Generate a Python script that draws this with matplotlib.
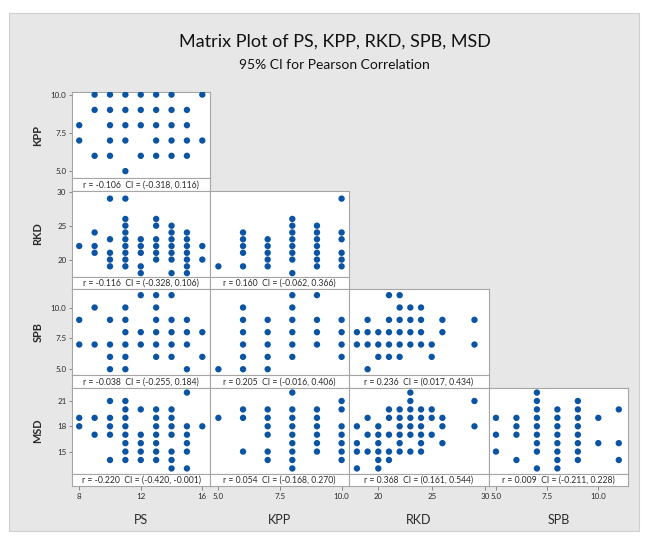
import matplotlib
matplotlib.use("Agg")
import matplotlib.pyplot as plt
from matplotlib.patches import Rectangle

plt.rcParams['font.family'] = ['Lato', 'DejaVu Sans']

# ---------------- data (value of x -> list of y values seen at that x) -----------
variables = ["PS", "KPP", "RKD", "SPB", "MSD"]

KPP_vs_PS = {8: [8, 7], 9: [10, 9, 6], 10: [10, 9, 8, 7, 6], 11: [10, 9, 8, 7, 5],
             12: [10, 9, 8, 6], 13: [10, 9, 8, 7, 6], 14: [10, 9, 8, 7, 6],
             15: [9, 8, 7, 6], 16: [10, 7]}

RKD_vs_PS = {8: [22], 9: [24, 22, 21], 10: [29, 23, 21, 20, 19],
             11: [29, 26, 25, 24, 23, 22, 21, 20, 19], 12: [23, 22, 21, 19, 18],
             13: [26, 25, 23, 22, 21, 20], 14: [25, 24, 23, 22, 21, 20, 18],
             15: [24, 23, 22, 21, 20, 19, 18], 16: [22, 20]}
RKD_vs_KPP = {5: [19], 6: [24, 23, 22, 21, 19], 7: [23, 22, 21, 20, 19],
              8: [26, 25, 24, 23, 22, 21, 20, 18], 9: [25, 24, 23, 22, 21, 20, 19],
              10: [29, 24, 23, 21, 20, 19]}

SPB_vs_PS = {8: [9, 7], 9: [10, 7], 10: [9, 7, 6, 5], 11: [10, 9, 8, 7, 6, 5],
             12: [11, 8, 7], 13: [11, 10, 9, 8, 7, 6], 14: [11, 9, 8, 7, 6],
             15: [9, 8, 7, 5], 16: [8, 6]}
SPB_vs_KPP = {5: [5], 6: [10, 9, 8, 7, 6, 5], 7: [9, 8, 7, 6, 5],
              8: [11, 10, 9, 8, 7, 6], 9: [11, 9, 8, 7], 10: [9, 8, 7, 6]}
SPB_vs_RKD = {18: [8, 7], 19: [9, 8, 7, 5], 20: [8, 7, 6], 21: [11, 9, 8, 7, 6],
              22: [11, 10, 9, 8, 7, 6], 23: [10, 9, 8, 7], 24: [10, 9, 8, 7],
              25: [7, 6], 26: [9, 8], 29: [9, 7]}

MSD_vs_PS = {8: [19, 18], 9: [19, 17], 10: [21, 19, 18, 17, 14],
             11: [21, 20, 19, 18, 17, 16, 15, 14], 12: [20, 17, 16, 15, 14],
             13: [20, 19, 18, 17, 16, 15, 14], 14: [20, 19, 18, 17, 15, 14, 13],
             15: [22, 18, 17, 16, 15, 13], 16: [18]}
MSD_vs_KPP = {5: [19], 6: [20, 19, 15], 7: [20, 19, 18, 17, 15, 14],
              8: [22, 20, 19, 18, 17, 16, 15, 14, 13], 9: [20, 19, 18, 17, 16, 15],
              10: [21, 20, 18, 17, 16, 15, 14]}
MSD_vs_RKD = {18: [18, 16, 15, 13], 19: [19, 17, 15], 20: [18, 17, 16, 15, 14, 13],
              21: [20, 19, 17, 15, 14], 22: [20, 19, 18, 17, 16, 15],
              23: [22, 21, 20, 19, 18, 17, 15], 24: [20, 19, 18, 17, 16, 15],
              25: [20, 19, 17], 26: [19, 18, 16], 29: [21, 18]}
MSD_vs_SPB = {5: [19, 17, 15], 6: [19, 18, 17, 14],
              7: [22, 21, 20, 19, 18, 17, 16, 15, 13],
              8: [20, 19, 18, 17, 16, 15, 14, 13],
              9: [21, 20, 19, 18, 17, 16, 15, 14], 10: [19, 16], 11: [20, 16, 14]}

panels = {
    (0, 0): KPP_vs_PS,
    (1, 0): RKD_vs_PS, (1, 1): RKD_vs_KPP,
    (2, 0): SPB_vs_PS, (2, 1): SPB_vs_KPP, (2, 2): SPB_vs_RKD,
    (3, 0): MSD_vs_PS, (3, 1): MSD_vs_KPP, (3, 2): MSD_vs_RKD, (3, 3): MSD_vs_SPB,
}

r_values = {(0, 0): "-0.106", (1, 0): "-0.116", (1, 1): "0.160",
            (2, 0): "-0.038", (2, 1): "0.205", (2, 2): "0.236",
            (3, 0): "-0.220", (3, 1): "0.054", (3, 2): "0.368", (3, 3): "0.009"}
ci_values = {(0, 0): "(-0.318, 0.116)", (1, 0): "(-0.328, 0.106)", (1, 1): "(-0.062, 0.366)",
             (2, 0): "(-0.255, 0.184)", (2, 1): "(-0.016, 0.406)", (2, 2): "(0.017, 0.434)",
             (3, 0): "(-0.420, -0.001)", (3, 1): "(-0.168, 0.270)", (3, 2): "(0.161, 0.544)",
             (3, 3): "(-0.211, 0.228)"}

col_vars = ["PS", "KPP", "RKD", "SPB"]
row_vars = ["KPP", "RKD", "SPB", "MSD"]
x_ticks = {"PS": [8, 12, 16], "KPP": [5.0, 7.5, 10.0], "RKD": [20, 25, 30], "SPB": [5.0, 7.5, 10.0]}
x_ticklabels = {"PS": ["8", "12", "16"], "KPP": ["5.0", "7.5", "10.0"],
                "RKD": ["20", "25", "30"], "SPB": ["5.0", "7.5", "10.0"]}
y_ticks = {"KPP": [5.0, 7.5, 10.0], "RKD": [20, 25, 30], "SPB": [5.0, 7.5, 10.0], "MSD": [15, 18, 21]}
y_ticklabels = {"KPP": ["5.0", "7.5", "10.0"], "RKD": ["20", "25", "30"],
                "SPB": ["5.0", "7.5", "10.0"], "MSD": ["15", "18", "21"]}

title = "Matrix Plot of PS, KPP, RKD, SPB, MSD"
subtitle = "95% CI for Pearson Correlation"

# ---------------- layout ----------------
W, H = 645, 540
x_lims = {"PS": (7.53, 16.5), "KPP": (4.66, 10.3), "RKD": (17.26, 30.36), "SPB": (4.66, 11.45)}
y_lims = {"KPP": (4.55, 10.17), "RKD": (17.5, 30.2), "SPB": (4.53, 11.5), "MSD": (12.4, 22.6)}
col_edges = [72, 210, 349, 489, 628]
row_tops = [92, 190.5, 289, 387.5]
cell_h = 98.5
strip_h = 12.5
dot_color = "#0a54a3"
frame_color = "#a6a6a6"
txt_color = "#2a2a2a"

fig = plt.figure(figsize=(W / 100, H / 100), dpi=100)
fig.patch.set_facecolor("white")
fig.add_artist(Rectangle((9 / W, 1 - 531 / H), 630 / W, (531 - 13) / H,
                         transform=fig.transFigure, facecolor="#e7e7e7",
                         edgecolor="#cfcfcf", lw=0.8, zorder=0))

def fig_rect(x0, y0, x1, y1):
    return [x0 / W, 1 - y1 / H, (x1 - x0) / W, (y1 - y0) / H]

def style_spines(ax):
    for s in ax.spines.values():
        s.set_color(frame_color)
        s.set_linewidth(0.8)

for (i, j), data in panels.items():
    xv, yv = col_vars[j], row_vars[i]
    x0, x1 = col_edges[j], col_edges[j + 1]
    top = row_tops[i]
    ax = fig.add_axes(fig_rect(x0, top, x1, top + cell_h - strip_h))
    ax.set_facecolor("white")
    xs, ys = [], []
    for xval, yl in data.items():
        for yval in yl:
            xs.append(xval)
            ys.append(yval)
    ax.scatter(xs, ys, s=21, color=dot_color, edgecolors="none", zorder=3)
    ax.set_xlim(*x_lims[xv])
    ax.set_ylim(*y_lims[yv])
    ax.set_xticks([])
    style_spines(ax)
    if j == 0:
        ax.set_yticks(y_ticks[yv])
        ax.set_yticklabels(y_ticklabels[yv])
        ax.tick_params(axis="y", length=2.5, width=0.6, color="#777777", pad=1.5,
                       labelsize=5.8, labelcolor=txt_color)
    else:
        ax.set_yticks([])

    sax = fig.add_axes(fig_rect(x0, top + cell_h - strip_h, x1, top + cell_h))
    sax.set_facecolor("white")
    style_spines(sax)
    sax.set_xlim(*x_lims[xv])
    sax.set_ylim(0, 1)
    sax.set_yticks([])
    sax.text(0.5, 0.45, f"r = {r_values[(i, j)]}  CI = {ci_values[(i, j)]}",
             transform=sax.transAxes, ha="center", va="center", fontsize=6.2,
             color=txt_color)
    if i == 3:
        sax.set_xticks(x_ticks[xv])
        sax.set_xticklabels(x_ticklabels[xv])
        sax.tick_params(axis="x", length=3, width=0.6, color="#777777", pad=2,
                        labelsize=5.8, labelcolor=txt_color)
        fig.text((x0 + x1) / 2 / W, 1 - 520 / H, xv, ha="center", va="center",
                 fontsize=9, color=txt_color)
    else:
        sax.set_xticks([])
    if j == 0:
        fig.text(38 / W, 1 - (top + (cell_h - strip_h) / 2) / H, yv, rotation=90,
                 ha="center", va="center", fontsize=7.8, fontweight="bold",
                 color=txt_color)

fig.text(0.5 + 12 / W, 1 - 42 / H, title, ha="center", va="center", fontsize=13,
         color="#111111")
fig.text(0.5 + 12 / W, 1 - 65 / H, subtitle, ha="center", va="center", fontsize=10,
         color="#111111")

fig.savefig("out.png", dpi=100)
